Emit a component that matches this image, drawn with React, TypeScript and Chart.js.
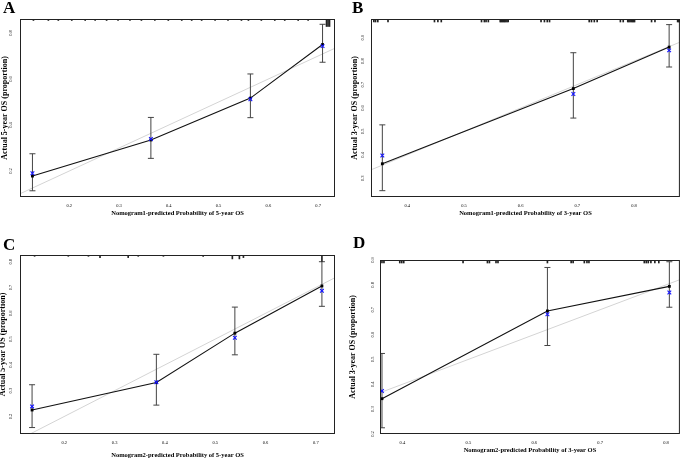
import React, { useEffect, useRef } from 'react';
import { Chart, registerables } from 'chart.js';
Chart.register(...registerables);

const FONT = "'Liberation Serif', 'Times New Roman', serif";

// ---------- Panel A: Nomogram1, 5-year OS ----------
const predA = [0.126, 0.364, 0.564, 0.709];
const obsA = [0.178, 0.335, 0.517, 0.750];
const corrA = [0.190, 0.339, 0.512, 0.743];
const loA = [0.114, 0.255, 0.432, 0.673];
const hiA = [0.275, 0.433, 0.622, 0.838];
const xTicksA = [0.2, 0.3, 0.4, 0.5, 0.6, 0.7];
const yTicksA = [0.2, 0.4, 0.6, 0.8];
const rugXA = [0.128, 0.158, 0.178, 0.205, 0.232, 0.252, 0.275, 0.298, 0.322, 0.345, 0.372, 0.399, 0.426, 0.446, 0.466, 0.493, 0.519, 0.546, 0.56, 0.586, 0.613, 0.633, 0.66, 0.68, 0.717, 0.72, 0.723];
const rugNA = [1, 1, 1, 1, 1, 1, 1, 1, 1, 1, 1, 1, 1, 1, 1, 1, 1, 1, 1, 1, 1, 1, 1, 1, 5, 5, 5];

// ---------- Panel B: Nomogram1, 3-year OS ----------
const predB = [0.356, 0.693, 0.862];
const obsB = [0.362, 0.683, 0.860];
const corrB = [0.397, 0.660, 0.846];
const loB = [0.247, 0.557, 0.775];
const hiB = [0.528, 0.836, 0.956];
const xTicksB = [0.4, 0.5, 0.6, 0.7, 0.8];
const yTicksB = [0.3, 0.4, 0.5, 0.6, 0.7, 0.8, 0.9];
const rugXB = [0.341, 0.344, 0.348, 0.366, 0.448, 0.454, 0.46, 0.531, 0.536, 0.539, 0.543, 0.564, 0.566, 0.568, 0.57, 0.572, 0.574, 0.576, 0.578, 0.636, 0.642, 0.647, 0.651, 0.721, 0.725, 0.73, 0.735, 0.776, 0.781, 0.789, 0.791, 0.793, 0.795, 0.797, 0.799, 0.801, 0.831, 0.837, 0.877, 0.879, 0.881, 0.883];
const rugNB = rugXB.map(() => 1);

// ---------- Panel C: Nomogram2, 5-year OS ----------
const predC = [0.136, 0.383, 0.539, 0.712];
const obsC = [0.225, 0.332, 0.523, 0.706];
const corrC = [0.239, 0.333, 0.505, 0.687];
const loC = [0.157, 0.244, 0.439, 0.627];
const hiC = [0.323, 0.441, 0.624, 0.800];
const xTicksC = [0.2, 0.3, 0.4, 0.5, 0.6, 0.7];
const yTicksC = [0.2, 0.3, 0.4, 0.5, 0.6, 0.7, 0.8];
const rugXC = [0.141, 0.208, 0.248, 0.271, 0.327, 0.347, 0.397, 0.476, 0.534, 0.548, 0.556, 0.712];
const rugNC = [1, 1, 1, 2, 2, 1, 1, 1, 3, 3, 2, 5];

// ---------- Panel D: Nomogram2, 3-year OS ----------
const predD = [0.369, 0.620, 0.805];
const obsD = [0.342, 0.695, 0.794];
const corrD = [0.373, 0.682, 0.769];
const loD = [0.225, 0.556, 0.710];
const hiD = [0.524, 0.870, 0.893];
const xTicksD = [0.4, 0.5, 0.6, 0.7, 0.8];
const yTicksD = [0.2, 0.3, 0.4, 0.5, 0.6, 0.7, 0.8, 0.9];
const rugXD = [0.369, 0.372, 0.396, 0.399, 0.402, 0.492, 0.529, 0.532, 0.542, 0.545, 0.62, 0.656, 0.659, 0.676, 0.68, 0.683, 0.767, 0.77, 0.773, 0.777, 0.783, 0.789];
const rugND = rugXD.map(() => 1);

const idealLine = [0, 1];

const panels = [
  {
    letter: 'A', pred: predA, obs: obsA, corr: corrA, lo: loA, hi: hiA, xTicks: xTicksA, yTicks: yTicksA, rugX: rugXA, rugN: rugNA,
    xTitle: 'Nomogram1-predicted Probability of 5-year OS', yTitle: 'Actual 5-year OS (proportion)',
    xMin: 0.101, xMax: 0.734, yMin: 0.087, yMax: 0.861,
    left: 0, top: 0, W: 342, H: 229, plotL: 20, plotT: 19, plotR: 335, plotB: 197,
    padL: 3, titleTop: 0, yTitlePad: -3.3, yTickPad: 6.2, xTickPad: 6.3, xTitlePad: 12.1, rugPx: 1.5,
  },
  {
    letter: 'B', pred: predB, obs: obsB, corr: corrB, lo: loB, hi: hiB, xTicks: xTicksB, yTicks: yTicksB, rugX: rugXB, rugN: rugNB,
    xTitle: 'Nomogram1-predicted Probability of 3-year OS', yTitle: 'Actual 3-year OS (proportion)',
    xMin: 0.336, xMax: 0.881, yMin: 0.22, yMax: 0.98,
    left: 342, top: 0, W: 343, H: 229, plotL: 29, plotT: 19, plotR: 342, plotB: 197,
    padL: 10, titleTop: 0, yTitlePad: -2.3, yTickPad: 5.5, xTickPad: 6.0, xTitlePad: 12.1, rugPx: 3,
  },
  {
    letter: 'C', pred: predC, obs: obsC, corr: corrC, lo: loC, hi: hiC, xTicks: xTicksC, yTicks: yTicksC, rugX: rugXC, rugN: rugNC,
    xTitle: 'Nomogram2-predicted Probability of 5-year OS', yTitle: 'Actual 5-year OS (proportion)',
    xMin: 0.112, xMax: 0.738, yMin: 0.132, yMax: 0.826,
    left: 0, top: 229, W: 342, H: 230, plotL: 20, plotT: 26, plotR: 335, plotB: 205,
    padL: 3, titleTop: 8, yTitlePad: -5.3, yTickPad: 6.2, xTickPad: 6.3, xTitlePad: 0.1, rugPx: 1.3,
  },
  {
    letter: 'D', pred: predD, obs: obsD, corr: corrD, lo: loD, hi: hiD, xTicks: xTicksD, yTicks: yTicksD, rugX: rugXD, rugN: rugND,
    xTitle: 'Nomogram2-predicted Probability of 3-year OS', yTitle: 'Actual 3-year OS (proportion)',
    xMin: 0.366, xMax: 0.821, yMin: 0.2, yMax: 0.9,
    left: 342, top: 229, W: 343, H: 230, plotL: 38, plotT: 31, plotR: 342, plotB: 205,
    padL: 11, titleTop: 6.5, yTitlePad: -5.3, yTickPad: 3.9, xTickPad: 6.3, xTitlePad: 5.1, rugPx: 3,
  },
];

const boxPlugin = {
  id: 'plotBox',
  afterDatasetsDraw(chart: any) {
    const { ctx, chartArea } = chart;
    ctx.save();
    ctx.strokeStyle = '#222';
    ctx.lineWidth = 1;
    ctx.strokeRect(chartArea.left + 0.5, chartArea.top + 0.5, chartArea.right - chartArea.left - 1, chartArea.bottom - chartArea.top - 1);
    ctx.restore();
  },
};

function buildConfig(p: any): any {
  const letterSize = 17;
  const plotH = p.plotB - p.plotT;
  const perPx = (p.yMax - p.yMin) / plotH;
  const errorSets = p.pred.map((x: number, i: number) => ({
    type: 'scatter',
    data: [{ x, y: p.lo[i] }, { x, y: p.hi[i] }],
    showLine: true,
    borderColor: '#444',
    borderWidth: 1,
    pointStyle: 'line',
    pointRadius: 3,
    pointBorderWidth: 1,
    pointBorderColor: '#444',
    order: 3,
  }));
  return {
    type: 'scatter',
    data: {
      datasets: [
        {
          type: 'scatter',
          data: idealLine.map((v) => ({ x: v, y: v })),
          showLine: true,
          borderColor: '#d4d4d4',
          borderWidth: 1,
          pointRadius: 0,
          order: 6,
        },
        {
          type: 'scatter',
          data: p.pred.map((x: number, i: number) => ({ x, y: p.obs[i] })),
          showLine: true,
          borderColor: '#111',
          borderWidth: 1.1,
          pointStyle: 'rect',
          pointRadius: 2,
          pointBackgroundColor: '#000',
          pointBorderColor: '#000',
          pointBorderWidth: 0,
          order: 2,
        },
        ...errorSets,
        {
          type: 'scatter',
          data: p.pred.map((x: number, i: number) => ({ x, y: p.corr[i] })),
          pointStyle: 'crossRot',
          pointRadius: 2.6,
          borderColor: '#1515ff',
          pointBorderColor: '#1515ff',
          pointBorderWidth: 1.1,
          order: 1,
        },
        {
          type: 'bar',
          data: p.rugX.map((x: number, i: number) => ({ x, y: [p.yMax - p.rugN[i] * p.rugPx * perPx, p.yMax] })),
          backgroundColor: '#222',
          barThickness: 1,
          order: 0,
        },
      ],
    },
    options: {
      responsive: false,
      animation: false,
      devicePixelRatio: 1,
      layout: { padding: { left: p.padL, right: p.W - p.plotR, top: 0, bottom: 0 } },
      plugins: {
        legend: { display: false },
        tooltip: { enabled: false },
        title: {
          display: true,
          text: p.letter,
          align: 'start',
          color: '#000',
          font: { family: FONT, size: letterSize, weight: 'bold', lineHeight: 1 },
          padding: { top: p.titleTop, bottom: p.plotT - p.titleTop - letterSize },
        },
      },
      scales: {
        x: {
          type: 'linear',
          offset: false,
          min: p.xMin,
          max: p.xMax,
          afterBuildTicks: (s: any) => { s.ticks = p.xTicks.map((v: number) => ({ value: v })); },
          afterFit: (s: any) => { s.height = p.H - p.plotB; },
          grid: { display: false, drawTicks: false, offset: false },
          border: { display: false },
          ticks: {
            color: '#000',
            font: { family: FONT, size: 4.5 },
            padding: p.xTickPad,
            maxRotation: 0,
            autoSkip: false,
            callback: (v: number) => Number(v).toFixed(1),
          },
          title: {
            display: true,
            text: p.xTitle,
            color: '#000',
            font: { family: FONT, size: 6.5, weight: 'bold' },
            padding: { top: 0, bottom: p.xTitlePad },
          },
        },
        y: {
          type: 'linear',
          offset: false,
          min: p.yMin,
          max: p.yMax,
          afterBuildTicks: (s: any) => { s.ticks = p.yTicks.map((v: number) => ({ value: v })); },
          afterFit: (s: any) => { s.width = p.plotL - p.padL; },
          grid: { display: false, drawTicks: false },
          border: { display: false },
          ticks: {
            color: '#000',
            font: { family: FONT, size: 4.5 },
            padding: p.yTickPad,
            minRotation: 90,
            maxRotation: 90,
            crossAlign: 'center',
            autoSkip: false,
            callback: (v: number) => Number(v).toFixed(1),
          },
          title: {
            display: true,
            text: p.yTitle,
            color: '#000',
            font: { family: FONT, size: 8, weight: 'bold' },
            padding: { top: p.yTitlePad, bottom: 0 },
          },
        },
      },
    },
    plugins: [boxPlugin],
  };
}

function Panel({ p }: { p: any }) {
  const ref = useRef<HTMLCanvasElement | null>(null);
  useEffect(() => {
    if (!ref.current) return;
    const chart = new Chart(ref.current, buildConfig(p));
    return () => chart.destroy();
  }, [p]);
  return (
    <div style={{ position: 'absolute', left: p.left, top: p.top, width: p.W, height: p.H }}>
      <canvas ref={ref} width={p.W} height={p.H} style={{ width: p.W, height: p.H, display: 'block' }} />
    </div>
  );
}

export default function App() {
  return (
    <div style={{ position: 'absolute', left: 0, top: 0, width: 685, height: 459, background: '#fff', overflow: 'hidden' }}>
      {panels.map((p) => (
        <Panel key={p.letter} p={p} />
      ))}
    </div>
  );
}
